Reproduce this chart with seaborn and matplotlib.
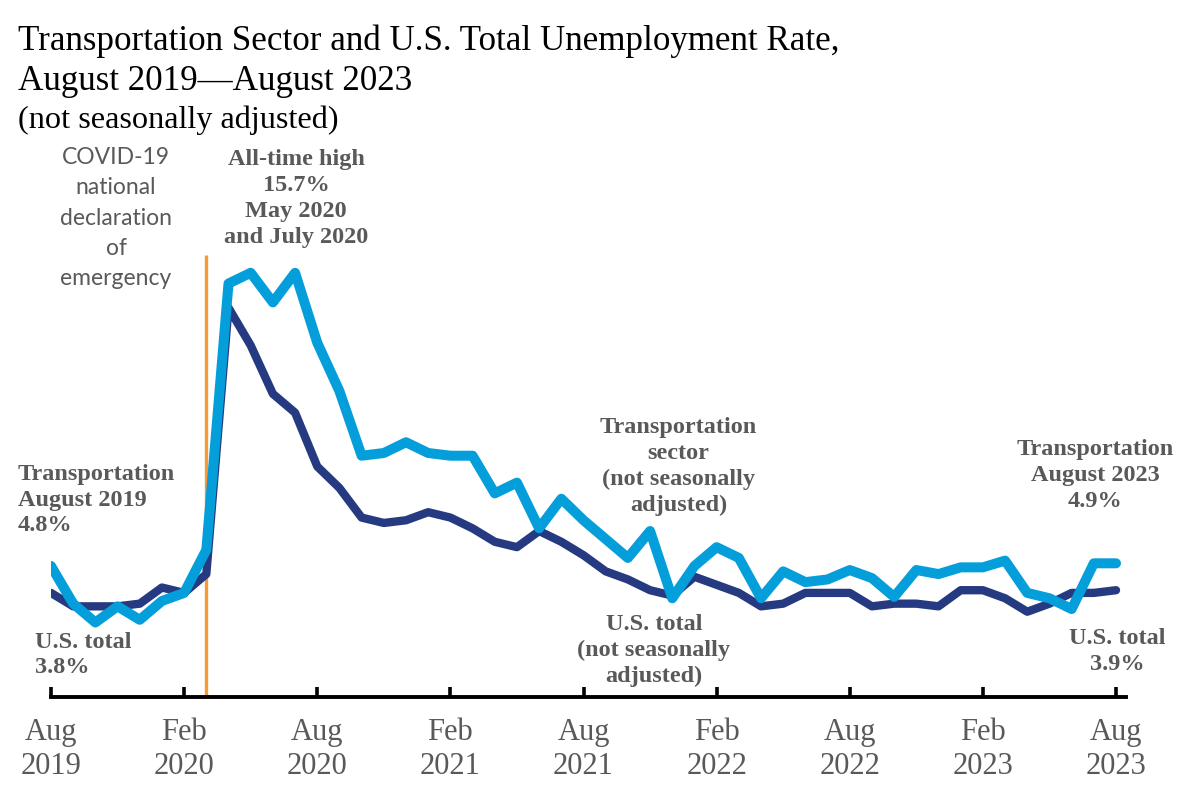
import numpy as np
import pandas as pd
import matplotlib
matplotlib.use("Agg")
import matplotlib.pyplot as plt
import seaborn as sns

# ---------------- data ----------------
transport = [4.8, 3.4, 2.7, 3.3, 2.8, 3.5, 3.8, 5.4, 15.3, 15.7, 14.6, 15.7,
             13.1, 11.3, 8.9, 9.0, 9.4, 9.0, 8.9, 8.9, 7.5, 7.9, 6.2, 7.3,
             6.5, 5.8, 5.1, 6.1, 3.6, 4.8, 5.5, 5.1, 3.6, 4.6, 4.2, 4.3,
             4.65, 4.35, 3.65, 4.65, 4.5, 4.75, 4.75, 5.0, 3.8, 3.6, 3.2, 4.9,
             4.9]
us_total = [3.8, 3.3, 3.3, 3.3, 3.4, 4.0, 3.8, 4.5, 14.4, 13.0, 11.2, 10.5,
            8.5, 7.7, 6.6, 6.4, 6.5, 6.8, 6.6, 6.2, 5.7, 5.5, 6.1, 5.7,
            5.2, 4.6, 4.3, 3.9, 3.7, 4.4, 4.1, 3.8, 3.3, 3.4, 3.8, 3.8,
            3.8, 3.3, 3.4, 3.4, 3.3, 3.9, 3.9, 3.6, 3.1, 3.4, 3.8, 3.8,
            3.9]
tick_labels = ["Aug\n2019", "Feb\n2020", "Aug\n2020", "Feb\n2021", "Aug\n2021",
               "Feb\n2022", "Aug\n2022", "Feb\n2023", "Aug\n2023"]
emergency_month = 7  # March 2020

months = np.arange(len(transport))
df = pd.DataFrame({
    "month": np.concatenate([months, months]),
    "rate": us_total + transport,
    "series": ["U.S. total"] * len(us_total) + ["Transportation"] * len(transport),
})

# ---------------- style ----------------
sns.set_theme(style="white")
plt.rcParams["font.family"] = ["Liberation Serif", "DejaVu Serif"]

LIGHT = "#049EDB"
NAVY = "#253A80"
ORANGE = "#F89A34"
GRAY = "#595959"

fig = plt.figure(figsize=(12, 7.91), dpi=100)
ax = fig.add_axes([51 / 1200, (791 - 697) / 791, 1075 / 1200, 547 / 791])

# emergency line
ax.plot([emergency_month, emergency_month], [-0.07, 16.36], color=ORANGE, lw=2.4,
        zorder=1, solid_capstyle="butt")

sns.lineplot(data=df, x="month", y="rate", hue="series",
             palette={"U.S. total": NAVY, "Transportation": LIGHT},
             hue_order=["U.S. total", "Transportation"], legend=False, ax=ax,
             zorder=3)
for line, lw in zip(ax.lines[1:], [6.0, 7.2]):
    line.set_linewidth(lw)
    line.set_solid_capstyle("round")
    line.set_solid_joinstyle("round")

ax.set_xlim(0, 48.45)
ax.set_ylim(-0.07, -0.07 + 547 / 26.9)
ax.set_xlabel("")
ax.set_ylabel("")
ax.set_yticks([])
for s in ["top", "left", "right"]:
    ax.spines[s].set_visible(False)
ax.spines["bottom"].set_linewidth(2.8)
ax.spines["bottom"].set_color("black")
ax.set_xticks(np.arange(0, 49, 6))
ax.set_xticklabels(tick_labels)
ax.tick_params(axis="x", direction="in", length=7, width=2.6, color="black",
               pad=15, labelsize=22, labelcolor=GRAY, bottom=True)
for t in ax.get_xticklabels():
    t.set_linespacing(1.22)
    t.set_fontfamily(["Liberation Serif"])

# ---------------- titles ----------------
fig.text(18 / 1200, 1 - 50 / 791, "Transportation Sector and U.S. Total Unemployment Rate,",
         fontsize=25.2, color="black", va="baseline", ha="left")
fig.text(18 / 1200, 1 - 90 / 791, "August 2019\u2014August 2023",
         fontsize=25.2, color="black", va="baseline", ha="left")
fig.text(18 / 1200, 1 - 128 / 791, "(not seasonally adjusted)",
         fontsize=23.2, color="black", va="baseline", ha="left")

# ---------------- annotations ----------------
bold = dict(fontsize=17.5, fontweight="bold", color=GRAY, linespacing=1.3,
            family=["Liberation Serif"])
ax.text(2.93, 17.73, "COVID-19\nnational\ndeclaration\nof\nemergency",
        ha="center", va="center", fontsize=16.5, color=GRAY, linespacing=1.55,
        family=["Lato", "DejaVu Sans"])
ax.text(11.04, 18.46, "All-time high\n15.7%\nMay 2020\nand July 2020",
        ha="center", va="center", **bold)
ax.text(28.28, 8.49, "Transportation\nsector\n(not seasonally\nadjusted)",
        ha="center", va="center", **bold)
ax.text(27.17, 1.67, "U.S. total\n(not seasonally\nadjusted)",
        ha="center", va="center", **bold)
ax.text(-1.49, 7.25, "Transportation\nAugust 2019\n4.8%",
        ha="left", va="center", **bold)
ax.text(-0.72, 1.49, "U.S. total\n3.8%", ha="left", va="center", **bold)
ax.text(47.05, 8.16, "Transportation\nAugust 2023\n4.9%",
        ha="center", va="center", **bold)
ax.text(48.04, 1.62, "U.S. total\n3.9%", ha="center", va="center", **bold)

fig.savefig("out.png", dpi=100)
